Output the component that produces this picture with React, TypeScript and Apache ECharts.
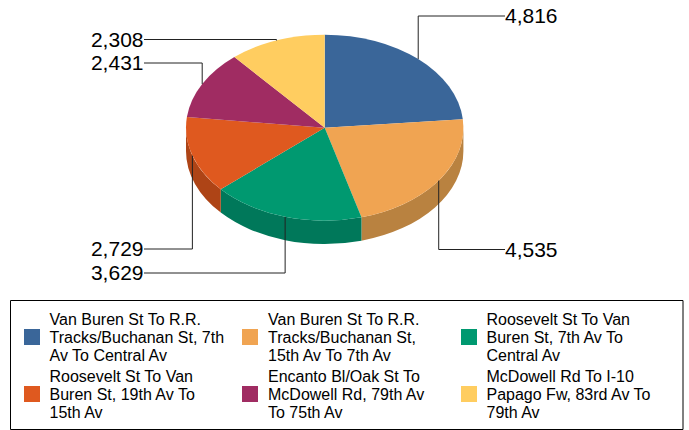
import React, { useEffect, useRef } from "react";
import * as echarts from "echarts";

const categories = [
  "Van Buren St To R.R. Tracks/Buchanan St, 7th Av To Central Av",
  "Van Buren St To R.R. Tracks/Buchanan St, 15th Av To 7th Av",
  "Roosevelt St To Van Buren St, 7th Av To Central Av",
  "Roosevelt St To Van Buren St, 19th Av To 15th Av",
  "Encanto Bl/Oak St To McDowell Rd, 79th Av To 75th Av",
  "McDowell Rd To I-10 Papago Fw, 83rd Av To 79th Av",
];
const values = [4816, 4535, 3629, 2729, 2431, 2308];
const valueLabels = ["4,816", "4,535", "3,629", "2,729", "2,431", "2,308"];
const legendLines = [
  ["Van Buren St To R.R.", "Tracks/Buchanan St, 7th", "Av To Central Av"],
  ["Van Buren St To R.R.", "Tracks/Buchanan St,", "15th Av To 7th Av"],
  ["Roosevelt St To Van", "Buren St, 7th Av To", "Central Av"],
  ["Roosevelt St To Van", "Buren St, 19th Av To", "15th Av"],
  ["Encanto Bl/Oak St To", "McDowell Rd, 79th Av", "To 75th Av"],
  ["McDowell Rd To I-10", "Papago Fw, 83rd Av To", "79th Av"],
];

const topColors = ["#3A6699", "#F0A452", "#009970", "#DF591F", "#A02C62", "#FFCD60"];
const sideColors = ["#2C4D73", "#B98240", "#00785A", "#AE4416", "#7A214A", "#C29C49"];

const CX = 324.7;
const CY = 127.7;
const RX = 138.7;
const RY = 93;
const DEPTH = 23.3;
const labelLevels = [16, 249.5, 273, 249, 63, 39.5];
const labelOnRight = [true, true, false, false, false, false];
const labelRightX = 505;
const labelLeftX = 144;

const total = values.reduce((a, b) => a + b, 0);
const startAngle = (i: number) => (values.slice(0, i).reduce((a, b) => a + b, 0) / total) * 360;
const endAngle = (i: number) => startAngle(i + 1);
const px = (deg: number) => CX + RX * Math.sin((deg * Math.PI) / 180);
const py = (deg: number) => CY - RY * Math.cos((deg * Math.PI) / 180);

function topPath(a0: number, a1: number) {
  const large = a1 - a0 > 180 ? 1 : 0;
  return `M${CX} ${CY}L${px(a0)} ${py(a0)}A${RX} ${RY} 0 ${large} 1 ${px(a1)} ${py(a1)}Z`;
}
function sidePath(a0: number, a1: number) {
  const s = Math.max(a0, 90);
  const e = Math.min(a1, 270);
  if (e <= s) return "";
  return (
    `M${px(s)} ${py(s)}A${RX} ${RY} 0 0 1 ${px(e)} ${py(e)}` +
    `L${px(e)} ${py(e) + DEPTH}A${RX} ${RY} 0 0 0 ${px(s)} ${py(s) + DEPTH}Z`
  );
}

const FONT = '"Liberation Sans", Arial, sans-serif';

export default function App() {
  const ref = useRef<HTMLDivElement>(null);
  useEffect(() => {
    document.body.style.margin = "0";
    const chart = echarts.init(ref.current!, null, { renderer: "svg" });
    const legendGraphics: any[] = [
      {
        type: "rect",
        shape: { x: 10.5, y: 300.5, width: 672.5, height: 129 },
        style: { fill: "#fff", stroke: "#000", lineWidth: 1 },
        z: 0,
      },
    ];
    const colX = [24, 242, 461];
    const textX = [49.5, 268, 486.5];
    const rowY = [329, 386];
    categories.forEach((_, i) => {
      const c = i % 3;
      const r = Math.floor(i / 3);
      legendGraphics.push({
        type: "rect",
        shape: { x: colX[c], y: rowY[r], width: 16, height: 16 },
        style: { fill: topColors[i] },
        z: 1,
      });
      legendLines[i].forEach((line, k) => {
        legendGraphics.push({
          type: "text",
          x: textX[c],
          y: rowY[r] + 8 + (k - 1) * 18 + 0.7,
          style: {
            text: line,
            font: `16px ${FONT}`,
            fill: "#000",
            align: "left",
            textAlign: "left",
            verticalAlign: "middle",
            textVerticalAlign: "middle",
          },
          z: 1,
        });
      });
    });
    chart.setOption({
      animation: false,
      backgroundColor: "#fff",
      tooltip: { show: false },
      graphic: { elements: legendGraphics },
      series: [
        {
          type: "custom",
          name: "sides",
          coordinateSystem: "none",
          z: 1,
          silent: true,
          data: values,
          renderItem: (p: any) => {
            const i = p.dataIndex;
            const d = sidePath(startAngle(i), endAngle(i));
            if (!d) return { type: "group", children: [] };
            return { type: "path", shape: { pathData: d }, style: { fill: sideColors[i] } };
          },
        },
        {
          type: "custom",
          name: "tops",
          coordinateSystem: "none",
          z: 2,
          silent: true,
          data: values,
          renderItem: (p: any) => {
            const i = p.dataIndex;
            return {
              type: "path",
              shape: { pathData: topPath(startAngle(i), endAngle(i)) },
              style: { fill: topColors[i] },
            };
          },
        },
        {
          type: "custom",
          name: "labels",
          coordinateSystem: "none",
          z: 3,
          silent: true,
          data: values,
          renderItem: (p: any) => {
            const i = p.dataIndex;
            const mid = (startAngle(i) + endAngle(i)) / 2;
            const right = labelOnRight[i];
            const endX = right ? labelRightX : labelLeftX;
            const y = labelLevels[i];
            return {
              type: "group",
              children: [
                {
                  type: "polyline",
                  shape: { points: [[endX, y], [px(mid), y], [px(mid), py(mid)]] },
                  style: { stroke: "#222", lineWidth: 1, fill: "none" },
                },
                {
                  type: "text",
                  x: right ? endX : endX - 0.5,
                  y: y - 0.5,
                  style: {
                    text: valueLabels[i],
                    font: `21px ${FONT}`,
                    fill: "#000",
                    align: right ? "left" : "right",
                    textAlign: right ? "left" : "right",
                    verticalAlign: "middle",
                    textVerticalAlign: "middle",
                  },
                },
              ],
            };
          },
        },
      ],
    });
    return () => chart.dispose();
  }, []);
  return <div ref={ref} style={{ position: "absolute", left: 0, top: 0, width: 689, height: 430 }} />;
}
